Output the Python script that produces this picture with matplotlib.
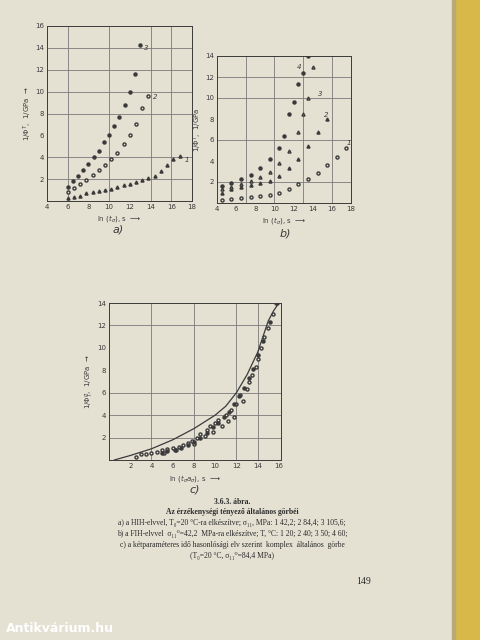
import matplotlib
matplotlib.use("Agg")
import matplotlib.pyplot as plt
from matplotlib.patches import Rectangle

W, H = 480, 640
ink = "#3a3a3a"
page = "#e4e1d3"

# ---- data ----
a1_x = [6, 6.6, 7.2, 7.8, 8.4, 9, 9.6, 10.2, 10.8, 11.4, 12, 12.6, 13.2, 13.8, 14.4, 15, 15.6, 16.2, 16.8]
a1_y = [0.3, 0.4, 0.5, 0.7, 0.8, 0.9, 1.0, 1.1, 1.3, 1.5, 1.6, 1.7, 1.9, 2.1, 2.3, 2.7, 3.3, 3.8, 4.1]
a2_x = [6, 6.6, 7.2, 7.8, 8.4, 9, 9.6, 10.2, 10.8, 11.4, 12, 12.6, 13.2, 13.8]
a2_y = [0.8, 1.2, 1.6, 1.9, 2.4, 2.8, 3.3, 3.8, 4.4, 5.2, 6.0, 7.0, 8.5, 9.6]
a3_x = [6, 6.5, 7, 7.5, 8, 8.5, 9, 9.5, 10, 10.5, 11, 11.5, 12, 12.5, 13]
a3_y = [1.3, 1.8, 2.3, 2.8, 3.4, 4.0, 4.6, 5.4, 6.0, 6.9, 7.7, 8.8, 10.0, 11.6, 14.3]

b1_x = [4.5, 5.5, 6.5, 7.5, 8.5, 9.5, 10.5, 11.5, 12.5, 13.5, 14.5, 15.5, 16.5, 17.5]
b1_y = [0.3, 0.4, 0.5, 0.6, 0.7, 0.8, 1.0, 1.3, 1.8, 2.3, 2.9, 3.6, 4.4, 5.2]
b2_x = [4.5, 5.5, 6.5, 7.5, 8.5, 9.5, 10.5, 11.5, 12.5, 13.5, 14.5, 15.5]
b2_y = [1.0, 1.3, 1.5, 1.7, 1.9, 2.1, 2.6, 3.3, 4.2, 5.4, 6.8, 8.0]
b3_x = [4.5, 5.5, 6.5, 7.5, 8.5, 9.5, 10.5, 11.5, 12.5, 13, 13.5, 14]
b3_y = [1.3, 1.5, 1.8, 2.1, 2.5, 3.0, 3.8, 5.0, 6.8, 8.5, 10.0, 13.0]
b4_x = [4.5, 5.5, 6.5, 7.5, 8.5, 9.5, 10.5, 11, 11.5, 12, 12.5, 13, 13.5]
b4_y = [1.6, 1.9, 2.3, 2.7, 3.3, 4.2, 5.2, 6.4, 8.5, 9.6, 11.3, 12.4, 14.0]

c_curve_x = [0.5, 2, 4, 6, 8, 10, 11, 12, 13, 14, 14.5, 15, 15.5, 16]
c_curve_y = [0.0, 0.4, 1.0, 1.8, 2.8, 4.0, 4.8, 6.0, 7.6, 9.6, 11.0, 12.4, 13.3, 14.0]
c_open_x = [2.5, 3, 3.5, 4, 4.5, 5, 5.2, 5.5, 6, 6.3, 6.6, 7, 7.4, 7.8, 8, 8.3, 8.6, 9, 9.2, 9.5, 9.8,
            10, 10.3, 10.6, 11, 11.2, 11.5, 11.8, 12, 12.3, 12.6, 13, 13.2, 13.5, 13.8, 14, 14.3, 14.6, 15, 15.4, 15.7]
c_open_y = [0.3, 0.5, 0.5, 0.6, 0.7, 0.9, 0.6, 1.0, 1.1, 0.9, 1.2, 1.3, 1.5, 1.7, 1.4, 2.0, 2.3, 2.1, 2.7, 3.0, 2.5,
            3.3, 3.6, 3.0, 4.0, 3.5, 4.5, 3.8, 5.0, 5.8, 5.3, 6.3, 7.0, 7.6, 8.3, 9.0, 10.0, 11.0, 11.8, 13.0, 14.0]
c_fill_x = [5.0, 5.5, 6.2, 6.8, 7.4, 8.0, 8.6, 9.2, 9.8, 10.3, 10.8, 11.3, 11.8, 12.2, 12.7, 13.2, 13.6, 14.0, 14.5, 15.2, 15.8]
c_fill_y = [0.6, 0.8, 0.9, 1.1, 1.3, 1.6, 2.0, 2.4, 2.9, 3.3, 3.8, 4.3, 5.0, 5.7, 6.4, 7.3, 8.1, 9.4, 10.6, 12.3, 14.0]

# grid line positions (sparser than ticks, as printed)
a_grid_x = [6, 10, 14, 16]
a_grid_y = [2, 4, 8, 10, 12, 14]
b_grid_x = [7, 10, 13, 16]
b_grid_y = [2, 6, 10, 12]
c_grid_x = [4, 8, 12, 14]
c_grid_y = [2, 4, 6, 12]

fig = plt.figure(figsize=(W / 100, H / 100), dpi=100)
fig.patch.set_facecolor(page)
fig.patches.append(Rectangle((455 / W, 0), 25 / W, 1, transform=fig.transFigure, color="#d8b848", zorder=0))
fig.patches.append(Rectangle((452 / W, 0), 3 / W, 1, transform=fig.transFigure, color="#b9a878", zorder=0))


def ax_px(x0, y0, x1, y1):
    return fig.add_axes([x0 / W, 1 - y1 / H, (x1 - x0) / W, (y1 - y0) / H])


def style(ax, xlim, ylim, xt, yt, gx, gy):
    ax.set_facecolor(page)
    ax.set_xlim(*xlim)
    ax.set_ylim(*ylim)
    ax.set_xticks(xt)
    ax.set_yticks(yt)
    ax.tick_params(labelsize=5, colors=ink, length=0, pad=2)
    for s in ax.spines.values():
        s.set_color(ink)
        s.set_linewidth(0.7)
    for g in gx:
        ax.axvline(g, color="#7a7a7a", lw=0.6, zorder=1)
    for g in gy:
        ax.axhline(g, color="#7a7a7a", lw=0.6, zorder=1)


ms = 2.2
# a)
axa = ax_px(47, 26, 192, 201)
style(axa, (4, 18), (0, 16), range(4, 19, 2), range(2, 17, 2), a_grid_x, a_grid_y)
axa.plot(a1_x, a1_y, "^", color=ink, ms=ms, ls="none", zorder=3)
axa.plot(a2_x, a2_y, "o", color=ink, ms=ms, mfc=page, ls="none", zorder=3)
axa.plot(a3_x, a3_y, "o", color=ink, ms=ms, ls="none", zorder=3)
for t, x, y in [("1", 17.3, 3.6), ("2", 14.2, 9.3), ("3", 13.4, 13.8)]:
    axa.text(x, y, t, fontsize=5, color=ink, style="italic")
axa.set_ylabel("$1/\\Phi^T$,  1/GPa  →", fontsize=5, color=ink, labelpad=1)
axa.set_xlabel("ln $(t_{\\sigma})$, s  ⟶", fontsize=5, color=ink, labelpad=2)
fig.text(118 / W, 1 - 232 / H, "a)", fontsize=8, color=ink, style="italic", ha="center")

# b)
axb = ax_px(217, 56, 351, 203)
style(axb, (4, 18), (0, 14), range(4, 19, 2), range(2, 15, 2), b_grid_x, b_grid_y)
axb.plot(b1_x, b1_y, "o", color=ink, ms=ms, mfc=page, ls="none", zorder=3)
axb.plot(b2_x, b2_y, "^", color=ink, ms=ms, ls="none", zorder=3)
axb.plot(b3_x, b3_y, "^", color=ink, ms=ms, mfc=page, ls="none", zorder=3)
axb.plot(b4_x, b4_y, "o", color=ink, ms=ms, ls="none", zorder=3)
for t, x, y in [("1", 17.5, 5.5), ("2", 15.2, 8.2), ("3", 14.5, 10.2), ("4", 12.3, 12.8)]:
    axb.text(x, y, t, fontsize=5, color=ink, style="italic")
axb.set_ylabel("$1/\\Phi^T$,  1/GPa", fontsize=5, color=ink, labelpad=1)
axb.set_xlabel("ln $(t_{\\sigma})$, s  ⟶", fontsize=5, color=ink, labelpad=2)
fig.text(285 / W, 1 - 236 / H, "b)", fontsize=8, color=ink, style="italic", ha="center")

# c)
axc = ax_px(109, 303, 281, 460)
style(axc, (0, 16.2), (0, 14), range(2, 17, 2), range(2, 15, 2), c_grid_x, c_grid_y)
axc.plot(c_curve_x, c_curve_y, "-", color=ink, lw=0.9, zorder=3)
axc.plot(c_open_x, c_open_y, "o", color=ink, ms=ms, mfc=page, ls="none", zorder=3)
axc.plot(c_fill_x, c_fill_y, "o", color=ink, ms=ms, ls="none", zorder=3)
axc.set_ylabel("$1/\\Phi_T^{\\sigma}$,  1/GPa  →", fontsize=5, color=ink, labelpad=1)
axc.set_xlabel("ln $(t_{\\sigma}a_{\\sigma})$, s  ⟶", fontsize=5, color=ink, labelpad=3)
fig.text(195 / W, 1 - 490 / H, "c)", fontsize=8, color=ink, style="italic", ha="center", va="center")

cap = [
    (502, "3.6.3. ábra.", "bold"),
    (512, "Az érzékenységi tényező általános görbéi", "bold"),
    (523, "a) a HIH-elvvel, T₀=20 °C-ra elkészítve; σ₁₁, MPa: 1 42,2; 2 84,4; 3 105,6;", "normal"),
    (534, "b) a FIH-elvvel  σ₁₁⁰=42,2  MPa-ra elkészítve; T, °C: 1 20; 2 40; 3 50; 4 60;", "normal"),
    (545, "c) a kétparaméteres idő hasonlósági elv szerint  komplex  általános  görbe", "normal"),
    (556, "(T₀=20 °C, σ₁₁⁰=84,4 MPa)", "normal"),
]
for y, t, w in cap:
    fig.text(232 / W, 1 - y / H, t, fontsize=5.5, color="#2a2a2a", ha="center", va="center",
             family=["Liberation Serif", "DejaVu Serif"], weight=w)
fig.text(364 / W, 1 - 582 / H, "149", fontsize=7, color="#2a2a2a", ha="center", va="center", family="Liberation Serif")
fig.text(6 / W, 1 - 628 / H, "Antikvárium.hu", fontsize=9, color="white", ha="left", va="center", weight="bold")

fig.savefig("out.png", dpi=100, facecolor=page)
